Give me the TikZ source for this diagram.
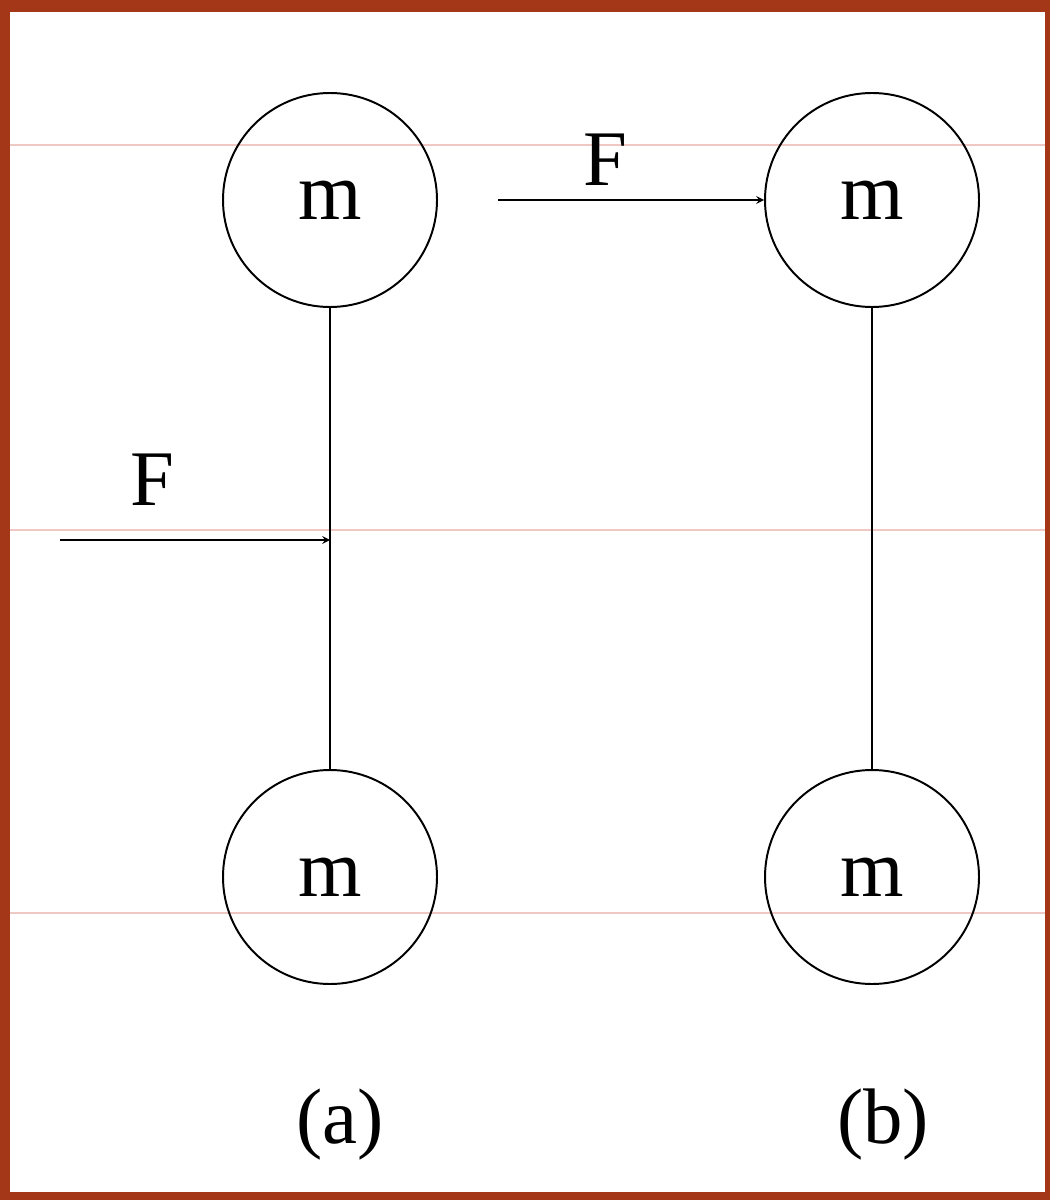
\documentclass[tikz,border=0pt]{standalone}
\usepackage{fontspec}
\setmainfont{Liberation Serif}
\definecolor{frame}{RGB}{165,55,25}
\definecolor{rule}{RGB}{240,200,195}
\tikzset{
  mass/.style={circle,draw,line width=1.4pt,minimum size=214\unit,inner sep=0pt,font=\fontsize{58}{60}\selectfont},
  lbl/.style={font=\fontsize{56}{60}\selectfont},
  rod/.style={line width=1.4pt},
  force/.style={line width=1.4pt,-stealth}
}
\newlength{\unit}\setlength{\unit}{0.025cm}
\begin{document}
\begin{tikzpicture}[x=0.025cm,y=-0.025cm]
        \fill[frame] (0,0) rectangle (1050,1200);
        \fill[white] (10,12) rectangle (1045,1192);
        \useasboundingbox (0,0) rectangle (1050,1200);
        % faint ruling
        \foreach \y in {145,530,913}
          \draw[rule,line width=0.8pt] (10,\y) -- (1045,\y);

        % (a)
        \node[mass] (a1) at (330,200) {m};
        \node[mass] (a2) at (330,877) {m};
        \draw[rod] (a1) -- (a2);
        \coordinate (pa) at (330,540);
        \coordinate (sa) at (60,540);
        \draw[force] (sa) -- (pa);
        \node[lbl] (fa) at (152,480) {F};
        \node[lbl] (la) at (340,1125) {(a)};

        % (b)
        \node[mass] (b1) at (872,200) {m};
        \node[mass] (b2) at (872,877) {m};
        \draw[rod] (b1) -- (b2);
        \coordinate (sb) at (498,200);
        \draw[force] (sb) -- (b1);
        \node[lbl] (fb) at (605,160) {F};
        \node[lbl] (lb) at (883,1125) {(b)};
\end{tikzpicture}
\end{document}
